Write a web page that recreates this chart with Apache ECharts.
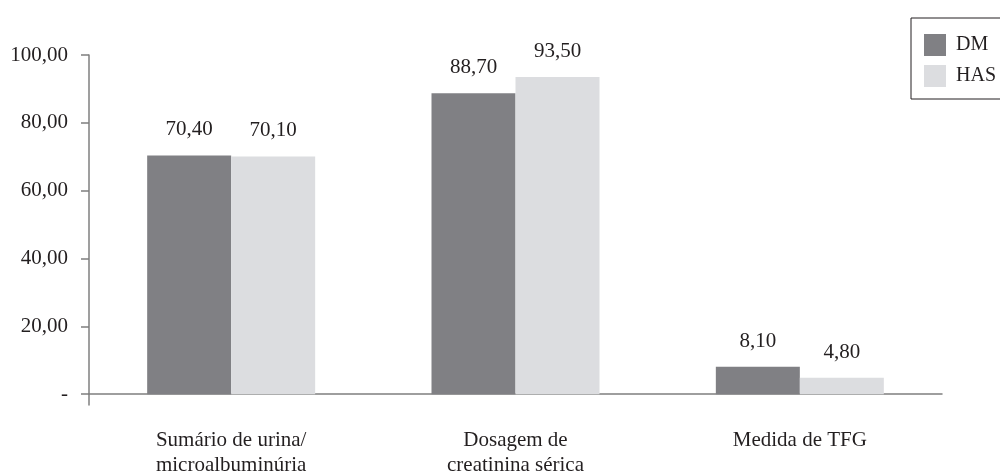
<!DOCTYPE html>
<html>
<head>
<meta charset="utf-8">
<script src="https://cdn.jsdelivr.net/npm/echarts@6/dist/echarts.min.js"></script>
<style>html,body{margin:0;padding:0;background:#fff}#c{width:1000px;height:476px}</style>
</head>
<body>
<div id="c"></div>
<script>
var categories = ['Sumário de urina/\nmicroalbuminúria', 'Dosagem de\ncreatinina sérica', 'Medida de TFG'];
var dmValues = [70.4, 88.7, 8.1];
var hasValues = [70.1, 93.5, 4.8];
var seriesNames = ['DM', 'HAS'];
var yTicks = [0, 20, 40, 60, 80, 100];

var FONT = '"Liberation Serif", "DejaVu Serif", serif';
var TXT = '#231f20';
var AX = '#7f7f7f';
function fmt(v) { return v.toFixed(2).replace('.', ','); }

var chart = echarts.init(document.getElementById('c'));
chart.setOption({
  animation: false,
  backgroundColor: '#fff',
  textStyle: { fontFamily: FONT, color: TXT },
  grid: { left: 89, right: 58, top: 55, bottom: 71, containLabel: false, outerBoundsMode: 'none' },
  legend: {
    orient: 'vertical', left: 911, top: 18,
    itemWidth: 22, itemHeight: 22, itemGap: 9, icon: 'rect',
    padding: [16, 60, 12, 13],
    borderColor: '#231f20', borderWidth: 1,
    textStyle: { fontFamily: FONT, fontSize: 20, color: TXT, padding: [0, 0, 0, 5] },
    data: seriesNames
  },
  xAxis: {
    type: 'category', data: categories,
    axisLine: { onZero: true, lineStyle: { color: AX, width: 1.5 } },
    axisTick: { show: false },
    axisLabel: { fontFamily: FONT, fontSize: 21, color: TXT, lineHeight: 25, margin: 23 }
  },
  yAxis: {
    type: 'value', min: -3.2, max: 100,
    axisLine: { show: true, lineStyle: { color: AX, width: 1.5 } },
    axisTick: { show: true, length: 8, customValues: yTicks, lineStyle: { color: AX, width: 1.5 } },
    splitLine: { show: false },
    axisLabel: { fontFamily: FONT, fontSize: 21, color: TXT, margin: 21, customValues: yTicks,
      formatter: function (v) { return v === 0 ? '-' : fmt(v); } }
  },
  series: [
    { name: 'DM', type: 'bar', data: dmValues, barWidth: 84, barGap: '0%',
      itemStyle: { color: '#808084' },
      label: { show: true, position: 'top', distance: 15, fontFamily: FONT, fontSize: 21, color: TXT,
        formatter: function (p) { return fmt(p.value); } } },
    { name: 'HAS', type: 'bar', data: hasValues, barWidth: 84, barGap: '0%',
      itemStyle: { color: '#dcdde0' },
      label: { show: true, position: 'top', distance: 15, fontFamily: FONT, fontSize: 21, color: TXT,
        formatter: function (p) { return fmt(p.value); } } }
  ]
});
</script>
</body>
</html>
